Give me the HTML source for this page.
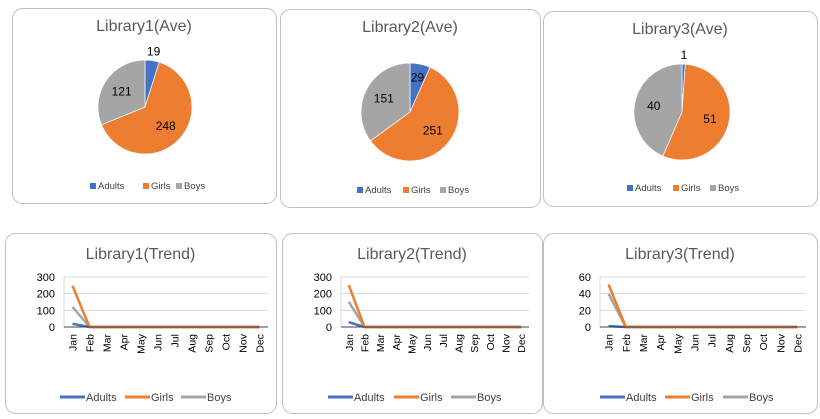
<!DOCTYPE html>
<html><head><meta charset="utf-8"><style>
body{margin:0;width:820px;height:419px;background:#fff;overflow:hidden;font-family:"Liberation Sans",sans-serif}
svg{position:absolute;left:0;top:0}
</style></head><body>
<svg id="s" width="820" height="419"></svg>
<script>
const series = ["Adults","Girls","Boys"];
const colors = ["#4472C4","#ED7D31","#A5A5A5"];
const months = ["Jan","Feb","Mar","Apr","May","Jun","Jul","Aug","Sep","Oct","Nov","Dec"];
const lib1Ave = [19,248,121];
const lib2Ave = [29,251,151];
const lib3Ave = [1,51,40];
const lib1Adults = [19,0,0,0,0,0,0,0,0,0,0,0];
const lib1Girls = [248,0,0,0,0,0,0,0,0,0,0,0];
const lib1Boys = [121,0,0,0,0,0,0,0,0,0,0,0];
const lib2Adults = [29,0,0,0,0,0,0,0,0,0,0,0];
const lib2Girls = [251,0,0,0,0,0,0,0,0,0,0,0];
const lib2Boys = [151,0,0,0,0,0,0,0,0,0,0,0];
const lib3Adults = [1,0,0,0,0,0,0,0,0,0,0,0];
const lib3Girls = [51,0,0,0,0,0,0,0,0,0,0,0];
const lib3Boys = [40,0,0,0,0,0,0,0,0,0,0,0];
const ticks1 = [0,100,200,300];
const ticks3 = [0,20,40,60];

const S=document.getElementById('s');const NS="http://www.w3.org/2000/svg";
function el(t,a,p){const e=document.createElementNS(NS,t);for(const k in a)e.setAttribute(k,a[k]);(p||S).appendChild(e);return e;}
function txt(x,y,s,a,p){const e=el('text',Object.assign({x:x,y:y,'font-size':11,fill:'#404040'},a),p);e.textContent=s;return e;}
function panel(x,y,w,h,name){const g=el('g',{});
 el('rect',{x:x+.5,y:y+.5,width:w,height:h,rx:10,fill:'#fff',stroke:'#BFBFBF','stroke-width':1},g);return g;}

function pie(px,py,pw,ph,title,vals,cx,cy,r,ly,lx,name){
 const g=panel(px,py,pw,ph,name);
 const t=txt(px+pw/2,py+23,title,{'font-size':16,fill:'#595959','text-anchor':'middle'},g);
 
 const tot=vals.reduce((a,b)=>a+b,0);let a0=-Math.PI/2;
 vals.forEach((v,i)=>{const a1=a0+v/tot*2*Math.PI;
  const x0=cx+r*Math.cos(a0),y0=cy+r*Math.sin(a0),x1=cx+r*Math.cos(a1),y1=cy+r*Math.sin(a1);
  const p=el('path',{d:`M${cx},${cy}L${x0},${y0}A${r},${r} 0 ${a1-a0>Math.PI?1:0} 1 ${x1},${y1}Z`,fill:colors[i],stroke:'#fff','stroke-width':0.7},g);
  
  
  const am=(a0+a1)/2;const small=v/tot<0.055;const rr=small?r+9:(v/tot<0.1?r*0.72:r*0.6);
  const l=txt(cx+rr*Math.cos(am),cy+rr*Math.sin(am)+4,String(v),{'font-size':12,fill:'#000','text-anchor':'middle'},g);
  
  
  a0=a1;});
 series.forEach((s,i)=>{const lg=el('g',{},g);
  
  
  el('rect',{x:lx[i],y:ly-6,width:6,height:6,fill:colors[i]},lg);
  txt(lx[i]+8,ly,s,{'font-size':9.5,fill:'#404040'},lg);});
}
pie(12,8,264,195,'Library1(Ave)',lib1Ave,145,107,47,189,[90,143,176],'pie-library1');
pie(280,9,260,198,'Library2(Ave)',lib2Ave,410,112,49,193,[357,403,440],'pie-library2');
pie(543,11,274,195,'Library3(Ave)',lib3Ave,682,112,48,191,[627,673,710],'pie-library3');

function trend(px,py,pw,ph,title,data,ticks,x0,x1,lx,name){
 const g=panel(px,py,pw,ph,name);
 const t=txt(px+pw/2,py+26,title,{'font-size':16,fill:'#595959','text-anchor':'middle'},g);
 
 const y0=327,y1=277,max=ticks[ticks.length-1];
 const Y=v=>y0-(v/max)*(y0-y1);const bw=(x1-x0)/months.length;const X=i=>x0+bw*(i+0.5);
 ticks.forEach(tv=>{if(tv>0)el('line',{x1:x0,x2:x1,y1:Y(tv),y2:Y(tv),stroke:'#D9D9D9'},g);
  const l=txt(x0-9,Y(tv)+4,String(tv),{'font-size':11,fill:'#000','text-anchor':'end'},g);
  
  });
 el('line',{x1:x0,x2:x0,y1:y1,y2:y0,stroke:'#D9D9D9'},g);
 months.forEach((m,i)=>{const l=txt(0,0,m,{'font-size':10.5,fill:'#000','text-anchor':'end',transform:`translate(${X(i)+4},${y0+7}) rotate(-90)`},g);
  
  });
 [2,0,1].forEach(si=>{const d=data[si];
  const p=el('polyline',{points:d.map((v,i)=>X(i)+','+Y(v)).join(' '),fill:'none',stroke:colors[si],'stroke-width':2.5,'stroke-linejoin':'round'},g);
  
  });
 el('line',{x1:x0,x2:x1,y1:y0,y2:y0,stroke:'#404040','stroke-width':1},g);
 series.forEach((s,i)=>{const lg=el('g',{},g);
  
  
  el('line',{x1:lx[i],x2:lx[i]+25,y1:397,y2:397,stroke:colors[i],'stroke-width':3},lg);
  txt(lx[i]+26,401,s,{'font-size':11,fill:'#404040'},lg);});
}
trend(5,233,271,180,'Library1(Trend)',[lib1Adults,lib1Girls,lib1Boys],ticks1,64,268,[60,125,181],'trend-library1');
trend(282,233,260,180,'Library2(Trend)',[lib2Adults,lib2Girls,lib2Boys],ticks1,341,529,[328,394,451],'trend-library2');
trend(543,233,274,180,'Library3(Trend)',[lib3Adults,lib3Girls,lib3Boys],ticks3,600,806,[600,665,723],'trend-library3');
</script>
</body></html>
